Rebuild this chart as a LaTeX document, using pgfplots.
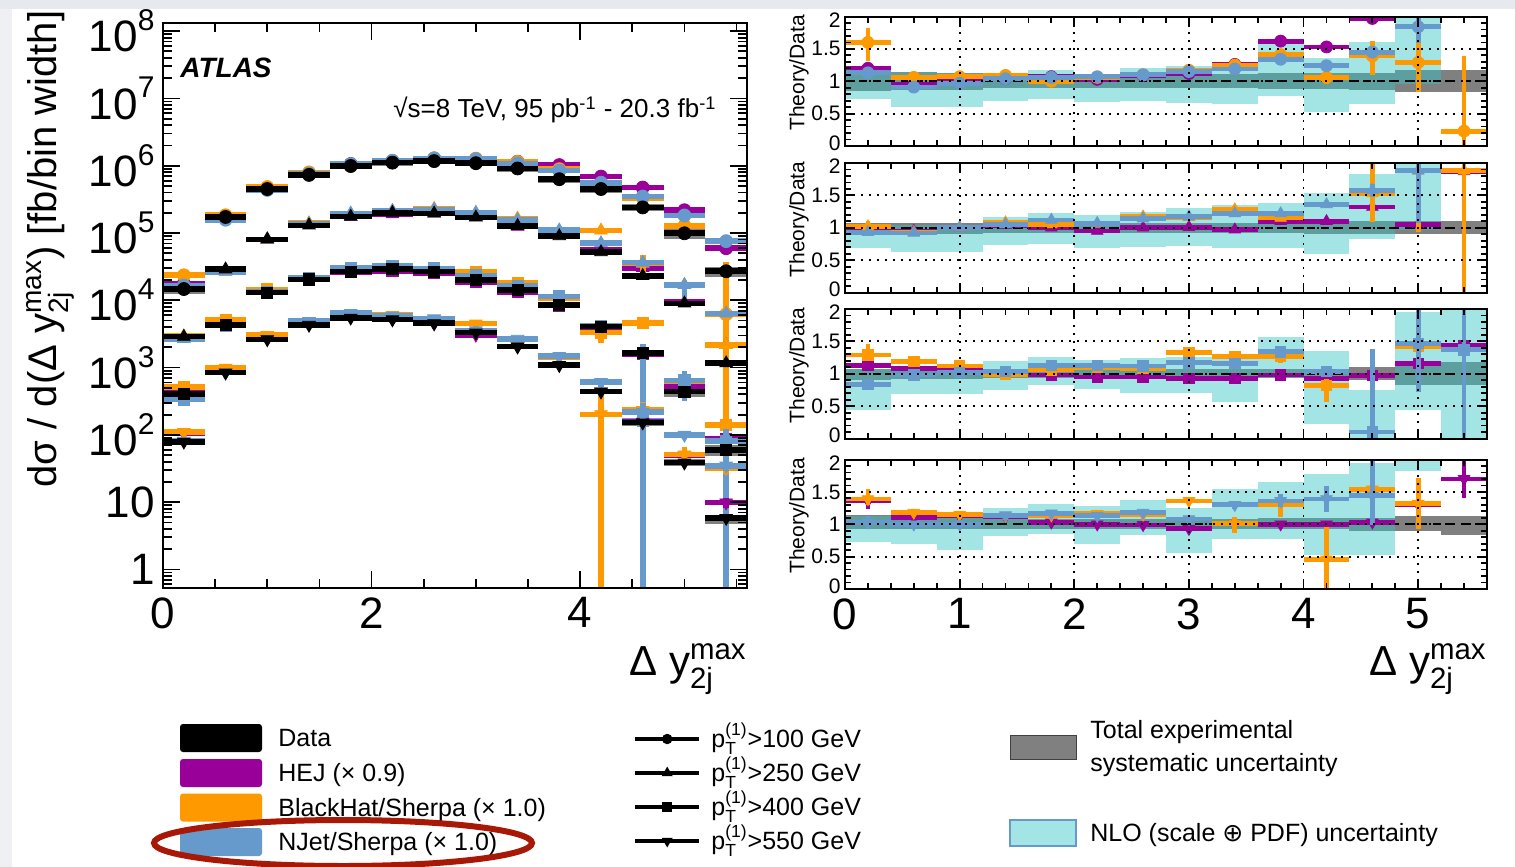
\documentclass[border=0pt]{standalone}
\usepackage{amsmath}
\usepackage{fontspec}
\setmainfont{Liberation Sans}
\newfontfamily\djv{DejaVu Sans}
\usepackage{pgfplots}
\pgfplotsset{compat=1.18}
\usepackage{pgfplotstable}

\definecolor{hejc}{RGB}{153,0,153}
\definecolor{bhc}{RGB}{255,153,0}
\definecolor{njc}{RGB}{102,153,204}
\definecolor{sysc}{RGB}{128,128,128}
\definecolor{nloc}{RGB}{51,196,196}
\definecolor{ringc}{RGB}{168,24,6}
\definecolor{edgeA}{RGB}{230,233,237}
\definecolor{edgeB}{RGB}{238,240,243}

% columns: bin centre, data, systematic band (rel.), HEJ / BlackHat / NJet ratios
% to data with their lower/upper errors, NLO band (lo, hi) relative to data
\pgfplotstableread{
x   d       slo  shi  h    hm     hp    b    bm      bp    n    nm     np    lo   hi
0.2 1.47e4  0.85 1.16 1.20 0.05   0.05  1.60 0.29    0.23  1.13 0.05   0.05  0.73 1.17
0.6 1.73e5  0.87 1.14 0.95 0.03   0.03  1.06 0.03    0.03  0.91 0.03   0.03  0.61 1.14
1.0 4.50e5  0.87 1.13 1.03 0.03   0.03  1.07 0.03    0.03  0.97 0.03   0.03  0.61 1.12
1.4 7.30e5  0.89 1.12 1.04 0.03   0.03  1.09 0.03    0.03  1.04 0.03   0.03  0.69 1.12
1.8 9.90e5  0.90 1.11 1.07 0.03   0.03  1.00 0.03    0.03  1.06 0.03   0.03  0.72 1.17
2.2 1.11e6  0.90 1.10 1.03 0.03   0.03  1.06 0.03    0.03  1.07 0.03   0.03  0.68 1.11
2.6 1.17e6  0.90 1.10 1.09 0.03   0.03  1.10 0.03    0.03  1.10 0.03   0.03  0.69 1.21
3.0 1.09e6  0.90 1.10 1.12 0.03   0.03  1.17 0.03    0.03  1.15 0.03   0.03  0.67 1.23
3.4 9.10e5  0.89 1.11 1.26 0.03   0.03  1.25 0.03    0.03  1.19 0.03   0.03  0.65 1.28
3.8 6.30e5  0.88 1.12 1.62 0.04   0.04  1.41 0.05    0.05  1.34 0.04   0.04  0.77 1.62
4.2 4.50e5  0.88 1.12 1.53 0.04   0.04  1.06 0.10    0.10  1.24 0.05   0.05  0.53 1.36
4.6 2.40e5  0.87 1.13 1.97 0.05   0.05  1.39 0.29    0.23  1.45 0.08   0.08  0.65 1.61
5.0 9.90e4  0.83 1.17 2.20 0.08   0.08  1.29 0.45    0.50  1.84 0.25   0.30  0.95 2.00
5.4 2.70e4  0.83 1.17 2.20 0.10   0.10  0.23 0.22999 1.16  2.80 0.30   0.30  nan  nan
}\gA
\pgfplotstableread{
x   d       slo  shi  h    hm     hp    b    bm      bp    n    nm     np    lo   hi
0.2 2.88e3  0.91 1.08 0.96 0.03   0.03  1.02 0.03    0.08  0.93 0.03   0.03  0.68 1.05
0.6 2.89e4  0.91 1.08 0.95 0.03   0.03  0.93 0.03    0.03  0.92 0.03   0.03  0.63 1.04
1.0 8.05e4  0.91 1.08 1.00 0.03   0.03  1.00 0.03    0.03  1.00 0.03   0.03  0.63 1.04
1.4 1.30e5  0.92 1.08 1.04 0.03   0.03  1.08 0.03    0.03  1.05 0.03   0.03  0.73 1.16
1.8 1.75e5  0.92 1.08 1.00 0.03   0.03  1.05 0.03    0.03  1.12 0.03   0.03  0.75 1.23
2.2 2.00e5  0.92 1.08 0.95 0.03   0.03  1.06 0.03    0.03  1.07 0.03   0.03  0.69 1.19
2.6 1.96e5  0.92 1.08 1.00 0.03   0.03  1.17 0.03    0.03  1.14 0.03   0.03  0.71 1.25
3.0 1.71e5  0.92 1.08 1.01 0.03   0.03  1.16 0.03    0.03  1.17 0.03   0.03  0.72 1.31
3.4 1.28e5  0.92 1.08 0.97 0.03   0.03  1.28 0.06    0.06  1.22 0.04   0.04  0.68 1.35
3.8 9.00e4  0.92 1.09 1.10 0.03   0.03  1.15 0.04    0.04  1.22 0.04   0.04  0.69 1.39
4.2 5.20e4  0.91 1.09 1.10 0.04   0.04  2.10 0.10    0.10  1.36 0.05   0.05  0.59 1.54
4.6 2.30e4  0.91 1.10 1.32 0.05   0.05  1.53 0.44    0.50  1.58 0.10   0.10  0.83 1.83
5.0 9.00e3  0.90 1.10 1.05 0.05   0.05  1.88 0.95    0.20  1.88 0.80   0.15  0.97 2.00
5.4 1.16e3  0.90 1.10 1.87 0.44   0.15  1.88 1.8799  0.20  5.50 0.50   0.50  nan  nan
}\gB
\pgfplotstableread{
x   d       slo  shi  h    hm     hp    b    bm      bp    n    nm     np    lo   hi
0.2 401     0.90 1.08 1.13 0.06   0.06  1.29 0.10    0.17  0.84 0.06   0.06  0.44 1.08
0.6 4.30e3  0.92 1.08 1.08 0.05   0.05  1.19 0.04    0.07  0.98 0.05   0.05  0.69 1.06
1.0 1.30e4  0.92 1.08 1.07 0.04   0.04  1.12 0.04    0.04  1.02 0.05   0.05  0.69 1.06
1.4 2.05e4  0.93 1.07 0.99 0.04   0.04  0.99 0.04    0.04  1.04 0.06   0.06  0.75 1.19
1.8 2.66e4  0.93 1.07 0.98 0.04   0.04  1.06 0.04    0.04  1.13 0.06   0.06  0.82 1.26
2.2 2.89e4  0.93 1.07 0.95 0.05   0.05  1.10 0.04    0.04  1.13 0.06   0.06  0.77 1.21
2.6 2.66e4  0.93 1.07 0.95 0.05   0.05  1.08 0.04    0.04  1.12 0.06   0.06  0.70 1.24
3.0 2.00e4  0.93 1.07 0.93 0.05   0.05  1.33 0.06    0.06  1.17 0.07   0.07  0.71 1.26
3.4 1.42e4  0.93 1.07 0.93 0.06   0.06  1.27 0.06    0.06  1.16 0.07   0.07  0.57 1.24
3.8 8.50e3  0.93 1.08 0.98 0.06   0.06  1.27 0.10    0.12  1.34 0.08   0.08  0.93 1.56
4.2 4.05e3  0.92 1.08 0.93 0.06   0.06  0.82 0.25    0.10  1.04 0.08   0.08  0.23 1.35
4.6 1.63e3  0.90 1.11 0.97 0.06   0.06  2.80 0.20    0.20  0.10 0.0999 1.29  0.00 0.75
5.0 439     0.82 1.18 1.16 0.08   0.08  1.42 0.10    0.10  1.47 0.75   0.55  0.44 1.95
5.4 59.7    0.82 1.18 1.44 0.10   0.10  2.35 0.30    0.30  1.37 1.3699 0.70  0.00 2.00
}\gC
\pgfplotstableread{
x   d       slo  shi  h    hm     hp    b    bm      bp    n    nm     np    lo   hi
0.2 79      0.92 1.14 1.36 0.12   0.12  1.39 0.10    0.15  1.03 0.10   0.10  0.72 1.13
0.6 840     0.92 1.10 1.10 0.04   0.04  1.18 0.05    0.05  1.00 0.04   0.04  0.70 1.10
1.0 2.63e3  0.92 1.10 1.13 0.04   0.04  1.15 0.05    0.05  1.00 0.06   0.06  0.60 1.10
1.4 4.30e3  0.93 1.08 1.12 0.04   0.04  1.13 0.04    0.04  1.14 0.04   0.04  0.82 1.25
1.8 5.50e3  0.93 1.08 1.03 0.04   0.04  1.14 0.04    0.04  1.17 0.05   0.05  0.85 1.32
2.2 5.20e3  0.93 1.08 1.00 0.04   0.04  1.16 0.04    0.04  1.13 0.04   0.04  0.69 1.28
2.6 4.55e3  0.93 1.08 0.99 0.04   0.04  1.15 0.04    0.04  1.18 0.05   0.05  0.84 1.37
3.0 3.30e3  0.93 1.08 0.93 0.04   0.04  1.36 0.05    0.05  1.08 0.05   0.05  0.56 1.25
3.4 2.05e3  0.93 1.08 1.01 0.05   0.05  1.01 0.15    0.10  1.30 0.06   0.06  0.77 1.54
3.8 1.09e3  0.92 1.09 1.00 0.05   0.05  1.31 0.20    0.15  1.36 0.10   0.10  0.77 1.66
4.2 439     0.92 1.09 1.00 0.05   0.05  0.46 0.4599  0.50  1.39 0.20   0.20  0.53 1.78
4.6 152     0.90 1.10 1.03 0.06   0.06  1.54 0.40    0.50  1.44 0.45   0.55  0.53 1.94
5.0 38.6    0.89 1.13 1.30 0.15   0.15  1.32 0.40    0.40  2.58 0.30   0.30  1.83 2.00
5.4 5.8     0.83 1.13 1.70 0.30   0.30  5.50 1.00    1.00  6.00 1.00   1.00  nan  nan
}\gD

\newcommand\ee[1]{10\raisebox{0.48em}{\fontsize{15}{15}\selectfont #1}}

\pgfplotsset{
  hb/.style={only marks,
    error bars/x dir=both, error bars/x fixed=0.2,
    error bars/error mark=none,
    error bars/error bar style={line width=#1, solid}},
  hby/.style={hb=#1, error bars/y dir=both, error bars/y explicit},
  band/.style 2 args={only marks, no markers, mark size=0pt,
    error bars/y dir=both, error bars/y explicit,
    error bars/error mark=none,
    error bars/error bar style={line width=#1, #2}},
  rootaxis/.style={scale only axis, anchor=south west, axis on top,
    clip marker paths=true,
    axis line style={line width=1pt},
    every tick/.style={black, line width=0.9pt},
    tick align=inside, xtick pos=both, ytick pos=both,
    xmin=0, xmax=5.6},
  ratio/.style={rootaxis, width=321pt, height=64.75pt,
    ymin=0, ymax=2,
    xtick={0,1,2,3,4,5}, xticklabels={},
    minor xtick={0.2,0.4,0.6,0.8,1.2,1.4,1.6,1.8,2.2,2.4,2.6,2.8,3.2,3.4,3.6,3.8,4.2,4.4,4.6,4.8,5.2,5.4},
    ytick={0,0.5,1,1.5,2}, yticklabels={0,0.5,1,1.5,2},
    minor ytick={0.1,0.2,0.3,0.4,0.6,0.7,0.8,0.9,1.1,1.2,1.3,1.4,1.6,1.7,1.8,1.9},
    major tick length=5pt, minor tick length=3pt,
    grid=major,
    major grid style={black, line width=0.9pt, dash pattern=on 0.9pt off 3.1pt},
    yticklabel style={font=\fontsize{10.5}{10.5}\selectfont, inner sep=0pt, xshift=-2pt,
      yshift={(\ticknum==0)*1.6pt-(\ticknum==4)*1.6pt}}},
}

% one pT group in the spectrum panel: #1 table, #2 marker, #3 marker options
\newcommand\mainGroup[3]{%
  \addplot[band={20.857pt}{sysc}] table[x=x,
     y expr=\thisrow{d}*(\thisrow{slo}+\thisrow{shi})/2,
     y error expr=\thisrow{d}*(\thisrow{shi}-\thisrow{slo})/2] {#1};
  \addplot[hby=2.8pt, hejc, mark=#2, #3] table[x=x,
     y expr=\thisrow{d}*\thisrow{h},
     y error plus expr=\thisrow{d}*\thisrow{hp},
     y error minus expr=\thisrow{d}*\thisrow{hm}] {#1};
  \addplot[hby=2.8pt, bhc, mark=#2, #3] table[x=x,
     y expr=\thisrow{d}*\thisrow{b},
     y error plus expr=\thisrow{d}*\thisrow{bp},
     y error minus expr=\thisrow{d}*\thisrow{bm}] {#1};
  \addplot[hby=2.8pt, njc, mark=#2, #3] table[x=x,
     y expr=\thisrow{d}*\thisrow{n},
     y error plus expr=\thisrow{d}*\thisrow{np},
     y error minus expr=\thisrow{d}*\thisrow{nm}] {#1};
  \addplot[hb=2.8pt, black, mark=#2, #3] table[x=x, y=d] {#1};
}

% one pT group in its ratio panel
\newcommand\ratioGroup[3]{%
  \addplot[band={22.93pt}{sysc}] table[x=x,
     y expr=(\thisrow{slo}+\thisrow{shi})/2,
     y error expr=(\thisrow{shi}-\thisrow{slo})/2] {#1};
  \addplot[band={22.93pt}{nloc, opacity=0.45}] table[x=x,
     y expr=(\thisrow{lo}+\thisrow{hi})/2,
     y error expr=(\thisrow{hi}-\thisrow{lo})/2] {#1};
  \addplot[black, line width=1pt, dash pattern=on 4pt off 3pt] coordinates {(0,1) (5.6,1)};
  \addplot[hby=2.4pt, hejc, mark=#2, #3] table[x=x, y=h, y error plus=hp, y error minus=hm] {#1};
  \addplot[hby=2.4pt, bhc, mark=#2, #3] table[x=x, y=b, y error plus=bp, y error minus=bm] {#1};
  \addplot[hby=2.4pt, njc, mark=#2, #3] table[x=x, y=n, y error plus=np, y error minus=nm] {#1};
}

\begin{document}
\begin{tikzpicture}
\useasboundingbox (0pt,0pt) rectangle (757.5pt,-433.5pt);
\fill[white] (0pt,0pt) rectangle (757.5pt,-433.5pt);
\fill[edgeB] (0pt,0pt) rectangle (6pt,-433.5pt);
\fill[edgeA] (0pt,0pt) rectangle (757.5pt,-4.5pt);

% spectrum panel
\begin{axis}[rootaxis, at={(81.5pt,-294pt)}, width=292pt, height=282.5pt,
  ymode=log, ymin=0.53, ymax=1.32e8,
  xtick={0,2,4}, xticklabels={0,2,4},
  minor xtick={0.5,1,1.5,2.5,3,3.5,4.5,5,5.5},
  ytick={1,10,100,1000,1e4,1e5,1e6,1e7,1e8},
  yticklabels={1,10,\ee{2},\ee{3},\ee{4},\ee{5},\ee{6},\ee{7},\ee{8}},
  minor ytick={0.6,0.7,0.8,0.9,2,3,4,5,6,7,8,9,20,30,40,50,60,70,80,90,
    200,300,400,500,600,700,800,900,2000,3000,4000,5000,6000,7000,8000,9000,
    2e4,3e4,4e4,5e4,6e4,7e4,8e4,9e4,2e5,3e5,4e5,5e5,6e5,7e5,8e5,9e5,
    2e6,3e6,4e6,5e6,6e6,7e6,8e6,9e6,2e7,3e7,4e7,5e7,6e7,7e7,8e7,9e7},
  major tick length=8.5pt, minor tick length=4.5pt,
  tick label style={font=\fontsize{22}{22}\selectfont, inner sep=0pt},
  xticklabel style={yshift=-4.5pt}, yticklabel style={xshift=-4pt},
]
\mainGroup{\gA}{*}{mark size=3.25pt}
\mainGroup{\gB}{triangle*}{mark size=3.6pt}
\mainGroup{\gC}{square*}{mark size=2.8pt}
\mainGroup{\gD}{triangle*}{mark size=3.6pt, mark options={rotate=180}}
\end{axis}

% ratio panels
\begin{axis}[ratio, at={(422.5pt,-73pt)}]
\ratioGroup{\gA}{*}{mark size=3pt}
\end{axis}
\begin{axis}[ratio, at={(422.5pt,-146.25pt)}]
\ratioGroup{\gB}{triangle*}{mark size=3.3pt}
\end{axis}
\begin{axis}[ratio, at={(422.5pt,-219.25pt)}]
\ratioGroup{\gC}{square*}{mark size=2.6pt}
\end{axis}
\begin{axis}[ratio, at={(422.5pt,-294.5pt)},
  xticklabels={0,1,2,3,4,5},
  xticklabel style={font=\fontsize{22}{22}\selectfont, inner sep=0pt, yshift=-4.5pt}]
\ratioGroup{\gD}{triangle*}{mark size=3.3pt, mark options={rotate=180}}
\end{axis}

% pT legend
\begin{axis}[hide axis, scale only axis, width=20pt, height=20pt,
  anchor=north west, at={(316.5pt,-364.5pt)},
  xmin=0, xmax=1, ymin=0, ymax=1,
  legend style={at={(0,1)}, anchor=north west, draw=none, fill=none,
    inner sep=0pt, outer sep=0pt, row sep=5pt,
    font=\fontsize{12.5}{12.5}\selectfont,
    nodes={inner sep=0pt, text height=9pt, text depth=3pt}},
  legend cell align=left,
  legend image code/.code={%
    \draw[#1, mark repeat=2, mark phase=2] plot coordinates {(0pt,1pt) (16pt,1pt) (32pt,1pt)};
    \path (37pt,1pt);},
]
\addlegendimage{black, line width=2.2pt, mark=*, mark size=2.4pt, mark options={line width=0.4pt}}
\addlegendentry{p$^{\text{(1)}}_{\text{T}}$>100 GeV}
\addlegendimage{black, line width=2.2pt, mark=triangle*, mark size=2.8pt, mark options={line width=0.4pt}}
\addlegendentry{p$^{\text{(1)}}_{\text{T}}$>250 GeV}
\addlegendimage{black, line width=2.2pt, mark=square*, mark size=2.2pt, mark options={line width=0.4pt}}
\addlegendentry{p$^{\text{(1)}}_{\text{T}}$>400 GeV}
\addlegendimage{black, line width=2.2pt, mark=triangle*, mark size=2.8pt, mark options={line width=0.4pt, rotate=180}}
\addlegendentry{p$^{\text{(1)}}_{\text{T}}$>550 GeV}
\end{axis}

% titles and labels
\node[rotate=90, inner sep=0pt, font=\fontsize{20}{20}\selectfont] at (25pt,-124.5pt)
  {dσ / d(Δ y$^{\text{max}}_{\text{2j}}$) [fb/bin width]};
\node[anchor=west, inner sep=0pt, font=\fontsize{14}{14}\selectfont\bfseries\itshape] at (90pt,-34pt) {ATLAS};
\node[anchor=west, inner sep=0pt, font=\fontsize{13}{13}\selectfont] at (196.5pt,-55pt)
  {√s=8 TeV, 95 pb\textsuperscript{-1} - 20.3 fb\textsuperscript{-1}};
\node[anchor=base east, inner sep=0pt, font=\fontsize{21}{21}\selectfont] at (373.5pt,-337.5pt)
  {Δ y$^{\text{max}}_{\text{2j}}$};
\node[anchor=base east, inner sep=0pt, font=\fontsize{21}{21}\selectfont] at (743.5pt,-337.5pt)
  {Δ y$^{\text{max}}_{\text{2j}}$};
\foreach \yc in {-36.5,-109.75,-182.75,-258}
  \node[rotate=90, inner sep=0pt, font=\fontsize{10.5}{10.5}\selectfont] at (399.5pt,\yc pt) {Theory/Data};

% generator legend
\begin{scope}[font=\fontsize{12.5}{12.5}\selectfont]
\fill[black, rounded corners=1.5pt] (90pt,-362pt) rectangle (131pt,-376pt);
\fill[hejc, rounded corners=1.5pt] (90pt,-379.5pt) rectangle (131pt,-393.5pt);
\fill[bhc, rounded corners=1.5pt] (90pt,-396.75pt) rectangle (131pt,-410.75pt);
\fill[njc, rounded corners=1.5pt] (90pt,-414pt) rectangle (131pt,-428pt);
\node[anchor=base west, inner sep=0pt] at (139pt,-373.3pt) {Data};
\node[anchor=base west, inner sep=0pt] at (139pt,-390.8pt) {HEJ (× 0.9)};
\node[anchor=base west, inner sep=0pt] at (139pt,-408pt) {BlackHat/Sherpa (× 1.0)};
\node[anchor=base west, inner sep=0pt] at (139pt,-425.3pt) {NJet/Sherpa (× 1.0)};

% uncertainty legend
\filldraw[fill=sysc, draw=black!75, line width=0.5pt] (505pt,-367.5pt) rectangle (538pt,-379.5pt);
\node[anchor=base west, inner sep=0pt] at (545pt,-369.3pt) {Total experimental};
\node[anchor=base west, inner sep=0pt] at (545pt,-385.8pt) {systematic uncertainty};
\fill[nloc, fill opacity=0.45] (505pt,-410pt) rectangle (538pt,-423pt);
\draw[njc, line width=1pt] (505pt,-410pt) rectangle (538pt,-423pt);
\node[anchor=base west, inner sep=0pt] at (545pt,-420.8pt) {NLO (scale {\djv ⊕} PDF) uncertainty};
\end{scope}

% highlight ring
\draw[ringc, line width=3pt] (171.5pt,-421.5pt) ellipse [x radius=94.5pt, y radius=11.5pt];
\end{tikzpicture}
\end{document}
